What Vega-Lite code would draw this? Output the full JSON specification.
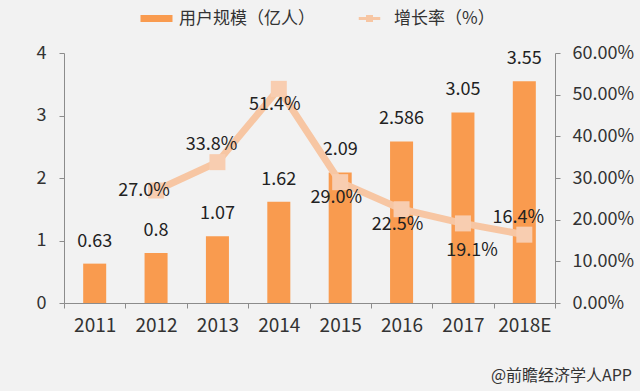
{
  "$schema": "https://vega.github.io/schema/vega-lite/v6.json",
  "width": 491,
  "height": 250,
  "autosize": {"type": "none"},
  "padding": {"left": 64, "top": 53, "right": 85, "bottom": 88},
  "background": "#F2F2F2",
  "config": {
    "font": "Noto Sans CJK SC",
    "view": {"stroke": null},
    "axis": {"grid": false, "domainColor": "#8C8C8C", "tickColor": "#8C8C8C", "labelColor": "#333333", "labelFontSize": 18, "tickSize": 5, "title": null}
  },
  "title": {"text": "@前瞻经济学人APP", "orient": "bottom", "anchor": "end", "frame": "group", "offset": 33, "dx": 77, "fontSize": 16, "fontWeight": "normal", "color": "#333333"},
  "data": {
    "values": [
      {"year": "2011", "users": 0.63, "rate": null},
      {"year": "2012", "users": 0.8, "rate": 0.27},
      {"year": "2013", "users": 1.07, "rate": 0.338},
      {"year": "2014", "users": 1.62, "rate": 0.514},
      {"year": "2015", "users": 2.09, "rate": 0.29},
      {"year": "2016", "users": 2.586, "rate": 0.225},
      {"year": "2017", "users": 3.05, "rate": 0.191},
      {"year": "2018E", "users": 3.55, "rate": 0.164}
    ]
  },
  "encoding": {
    "x": {"field": "year", "type": "ordinal", "sort": null, "scale": {"paddingInner": 0, "paddingOuter": 0}, "axis": {"labelAngle": 0, "tickBand": "extent", "labelPadding": 8, "labelFontSize": 19}}
  },
  "layer": [
    {
      "layer": [
        {
          "mark": {"type": "bar", "width": {"band": 0.375}},
          "encoding": {
            "y": {"field": "users", "type": "quantitative", "scale": {"domain": [0, 4]}, "axis": {"orient": "left", "values": [0, 1, 2, 3, 4], "format": "d", "labelPadding": 13}},
            "fill": {"datum": "用户规模（亿人）", "scale": {"range": ["#F99B4F"]}, "legend": {"orient": "none", "legendX": 84, "legendY": -43, "title": null, "symbolType": "M-3.2,-0.7H3.2V0.7H-3.2Z", "symbolSize": 100, "symbolStrokeWidth": 0, "labelOffset": 14, "labelFontSize": 17, "labelColor": "#333333", "padding": 0}}
          }
        },
        {
          "mark": {"type": "text", "baseline": "middle", "dy": -22, "fontSize": 18, "color": "#222222"},
          "encoding": {
            "y": {"field": "users", "type": "quantitative"},
            "text": {"field": "users", "type": "nominal"}
          }
        }
      ]
    },
    {
      "transform": [{"filter": "datum.rate != null"}],
      "encoding": {
        "y": {"field": "rate", "type": "quantitative", "scale": {"domain": [0, 0.6]}, "axis": {"orient": "right", "values": [0, 0.1, 0.2, 0.3, 0.4, 0.5, 0.6], "format": ".2%", "labelPadding": 12}}
      },
      "layer": [
        {
          "mark": {"type": "line", "strokeWidth": 7},
          "encoding": {
            "stroke": {"datum": "增长率（%）", "scale": {"range": ["#F7C6A3"]}, "legend": {"orient": "none", "legendX": 297, "legendY": -43, "title": null, "symbolType": "M-2.15,-0.3H2.15V0.3H-2.15Z M-0.7,-0.7H0.7V0.7H-0.7Z", "symbolSize": 100, "symbolFillColor": "#F7C6A3", "symbolStrokeWidth": 0, "labelOffset": 16, "labelFontSize": 17, "labelColor": "#333333", "padding": 0, "encode": {"symbols": {"update": {"fill": {"value": "#F7C6A3"}, "strokeWidth": {"value": 0}}}}}}
          }
        },
        {
          "mark": {"type": "point", "shape": "square", "filled": true, "size": 256, "color": "#F8CDB0", "opacity": 1}
        },
        {
          "transform": [{"filter": "datum.year == '2012'"}],
          "mark": {"type": "text", "baseline": "middle", "dx": -12, "dy": 0, "fontSize": 18, "color": "#222222"},
          "encoding": {"text": {"field": "rate", "type": "quantitative", "format": ".1%"}}
        },
        {
          "transform": [{"filter": "datum.year == '2013' || datum.year == '2018E'"}],
          "mark": {"type": "text", "baseline": "middle", "dx": -6, "dy": -17, "fontSize": 18, "color": "#222222"},
          "encoding": {"text": {"field": "rate", "type": "quantitative", "format": ".1%"}}
        },
        {
          "transform": [{"filter": "datum.year == '2014' || datum.year == '2015' || datum.year == '2016'"}],
          "mark": {"type": "text", "baseline": "middle", "dx": -4, "dy": 16, "fontSize": 18, "color": "#222222"},
          "encoding": {"text": {"field": "rate", "type": "quantitative", "format": ".1%"}}
        },
        {
          "transform": [{"filter": "datum.year == '2017'"}],
          "mark": {"type": "text", "baseline": "middle", "dx": 9, "dy": 28, "fontSize": 18, "color": "#222222"},
          "encoding": {"text": {"field": "rate", "type": "quantitative", "format": ".1%"}}
        }
      ]
    }
  ],
  "resolve": {"scale": {"y": "independent"}}
}
